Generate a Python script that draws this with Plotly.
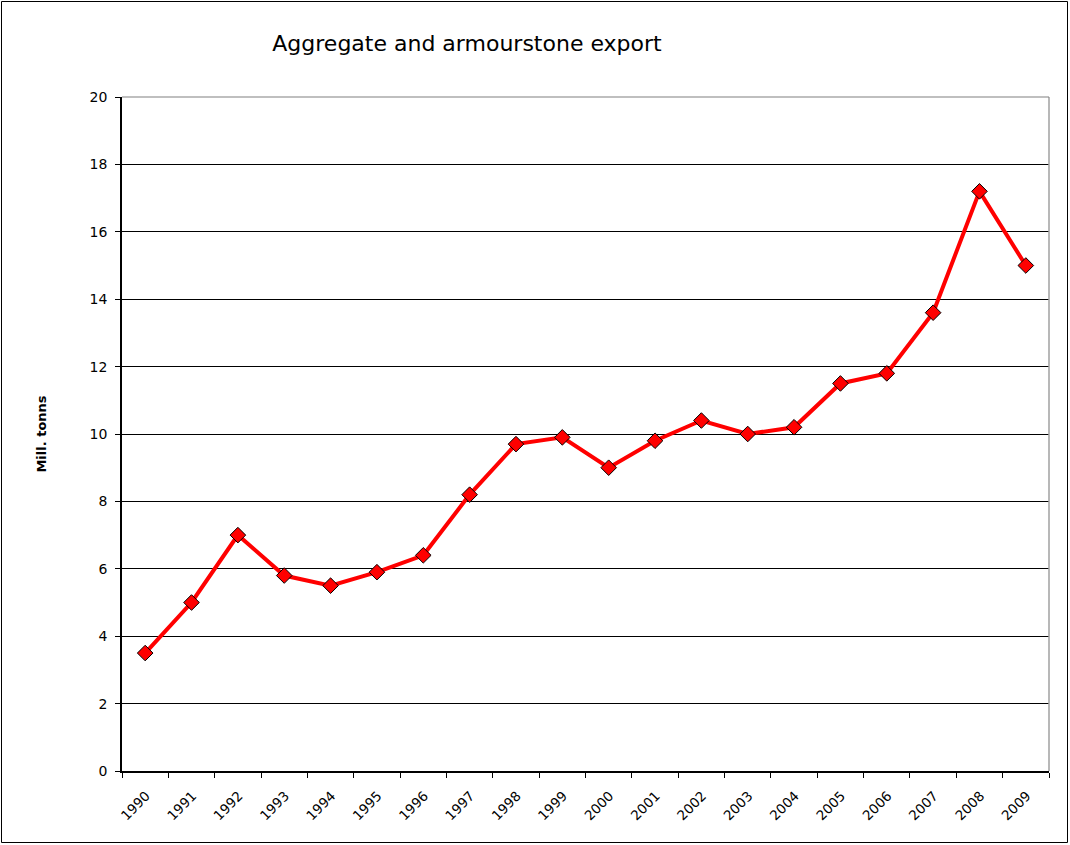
import plotly.graph_objects as go

years = [str(y) for y in range(1990, 2010)]
values = [3.5, 5.0, 7.0, 5.8, 5.5, 5.9, 6.4, 8.2, 9.7, 9.9, 9.0, 9.8, 10.4, 10.0, 10.2, 11.5, 11.8, 13.6, 17.2, 15.0]
y_ticks = list(range(0, 21, 2))

W, H = 1070, 845
ml, mr, mt, mb = 122, 21, 97, 74

fig = go.Figure()
fig.add_trace(go.Scatter(
    x=years, y=values, mode="lines+markers",
    line=dict(color="#ff0000", width=4),
    marker=dict(symbol="diamond", size=12, color="#ff0000", line=dict(color="black", width=1)),
    showlegend=False, cliponaxis=False,
))

pw = W - ml - mr
ph = H - mt - mb
fig.add_shape(type="rect", xref="paper", yref="paper",
              x0=-(ml - 1.5) / pw, x1=1 + (mr - 2.5) / pw,
              y0=-(mb - 2.5) / ph, y1=1 + (mt - 1.5) / ph,
              line=dict(color="black", width=1), fillcolor="rgba(0,0,0,0)", layer="below")
fig.add_shape(type="line", xref="paper", yref="paper", x0=1, x1=1, y0=0, y1=1,
              line=dict(color="#a0a0a0", width=1.5))
fig.add_shape(type="line", xref="paper", yref="paper", x0=0, x1=1, y0=1, y1=1,
              line=dict(color="#808080", width=1.2))

fig.update_layout(
    width=W, height=H,
    margin=dict(l=ml, r=mr, t=mt, b=mb, autoexpand=False),
    paper_bgcolor="white", plot_bgcolor="white",
    font=dict(family="DejaVu Sans, Verdana, sans-serif", color="black", size=12),
    title=dict(text="Aggregate and armourstone export", x=467 / W, xanchor="center",
               y=1 - 43 / H, yanchor="middle", font=dict(size=22)),
    xaxis=dict(type="category", range=[-0.5, len(years) - 0.5], tickangle=-45,
               ticks="outside", ticklen=5, tickson="boundaries",
               tickcolor="black", showline=True, linecolor="black", linewidth=1.5,
               showgrid=False, tickfont=dict(size=13.5),
               ticklabelstandoff=10, ticklabelshift=1),
    yaxis=dict(range=[0, 20], tickvals=y_ticks[:-1] + [20], ticks="outside", ticklen=5, tickcolor="black",
               showline=True, linecolor="black", linewidth=1.5,
               showgrid=True, gridcolor="black", gridwidth=1, zeroline=False,
               tickfont=dict(size=14), ticklabelstandoff=5,
               title=dict(text="<b>Mill. tonns</b>", font=dict(size=13), standoff=40)),
)
fig.write_html("out.html", config={"displayModeBar": False},
               post_script="document.body.style.margin='0';")
